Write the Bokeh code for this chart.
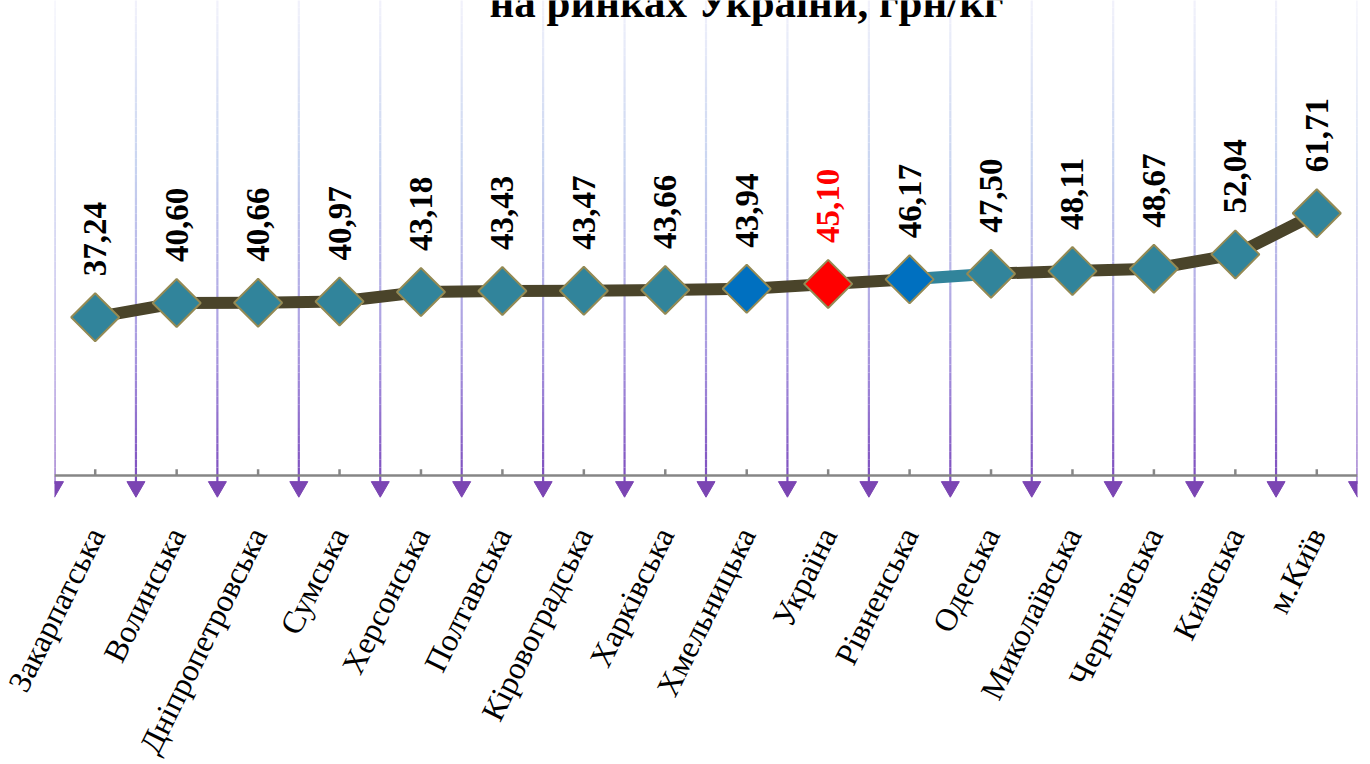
import math
from bokeh.plotting import figure
from bokeh.models import Label, FactorRange, Range1d
from bokeh.core.properties import value
from bokeh.embed import file_html
from bokeh.resources import INLINE

regions = ["Закарпатська", "Волинська", "Дніпропетровська", "Сумська", "Херсонська",
           "Полтавська", "Кіровоградська", "Харківська", "Хмельницька", "Україна",
           "Рівненська", "Одеська", "Миколаївська", "Чернігівська", "Київська", "м.Київ"]
prices = [37.24, 40.60, 40.66, 40.97, 43.18, 43.43, 43.47, 43.66, 43.94, 45.10,
          46.17, 47.50, 48.11, 48.67, 52.04, 61.71]
price_labels = ["37,24", "40,60", "40,66", "40,97", "43,18", "43,43", "43,47", "43,66",
                "43,94", "45,10", "46,17", "47,50", "48,11", "48,67", "52,04", "61,71"]
blue_regions = ["Хмельницька", "Рівненська"]
red_regions = ["Україна"]
title_text = "на ринках України, грн/кг"

SERIF = "Liberation Serif"
TEAL = "#31849B"
BLUE = "#0070C0"
RED = "#FF0000"
OLIVE = "#4A442A"

p = figure(x_range=FactorRange(factors=regions, range_padding=0),
           y_range=Range1d(-6.35, 111.8),
           frame_width=1303, frame_height=502,
           min_border_left=54, min_border_right=2, min_border_top=0, min_border_bottom=250,
           output_backend="svg", toolbar_location=None)
p.outline_line_color = None
p.background_fill_color = "white"
p.border_fill_color = "white"
p.xgrid.visible = False
p.ygrid.visible = False
p.yaxis.visible = False

ax = p.xaxis[0]
ax.axis_line_color = None
ax.major_tick_line_color = None
ax.minor_tick_line_color = None
ax.major_tick_out = 0
ax.major_tick_in = 0
ax.major_label_orientation = 1.11
ax.major_label_standoff = 27
ax.major_label_text_font = SERIF
ax.major_label_text_font_size = "32px"
ax.major_label_text_color = "black"

# gradient gridlines at category boundaries
def hex2rgb(h):
    h = h.lstrip("#")
    return tuple(int(h[i:i + 2], 16) for i in (0, 2, 4))

stops = [(0.0, "#7E4FBF"), (30.0, "#A99AE0"), (73.0, "#C8D4F0"), (112.0, "#F2F2FB")]

def grad(v):
    for (a, ca), (b, cb) in zip(stops[:-1], stops[1:]):
        if a <= v <= b:
            t = (v - a) / (b - a)
            ra, rb = hex2rgb(ca), hex2rgb(cb)
            return "#%02x%02x%02x" % tuple(int(round(ra[k] + (rb[k] - ra[k]) * t)) for k in range(3))
    return stops[-1][1]

boundaries = [(r, -0.5) for r in regions] + [(regions[-1], 0.5)]
N = 60
top = 112.0
xs0, ys0, ys1, cols = [], [], [], []
for b in boundaries:
    for k in range(N):
        y0 = top * k / N
        y1 = top * (k + 1) / N
        xs0.append(b)
        ys0.append(y0)
        ys1.append(y1)
        cols.append(grad((y0 + y1) / 2))
    xs0.append(b)
    ys0.append(-2.0)
    ys1.append(0.0)
    cols.append("#7E4FBF")
p.segment(x0=xs0, y0=ys0, x1=xs0, y1=ys1, line_color=cols, line_width=2.2)

# axis line and ticks
p.segment(x0=[(regions[0], -0.5)], y0=[0], x1=[(regions[-1], 0.5)], y1=[0],
          line_color="#868686", line_width=2.5)
p.segment(x0=regions, y0=[0] * len(regions), x1=regions, y1=[1.45] * len(regions),
          line_color="#868686", line_width=2.5)

# arrows
p.scatter(x=boundaries, y=[-2.66] * len(boundaries), marker="inverted_triangle",
          size=18, fill_color="#7B45B3", line_color="#7B45B3")

# price line
seg_teal = (regions.index("Рівненська"), regions.index("Одеська"))
p.line(x=regions[:seg_teal[0] + 1], y=prices[:seg_teal[0] + 1], line_color=OLIVE,
       line_width=12, line_join="round")
p.line(x=regions[seg_teal[1]:], y=prices[seg_teal[1]:], line_color=OLIVE,
       line_width=12, line_join="round")
p.line(x=regions[seg_teal[0]:seg_teal[1] + 1], y=prices[seg_teal[0]:seg_teal[1] + 1],
       line_color=TEAL, line_width=12)

mcolors = [RED if r in red_regions else BLUE if r in blue_regions else TEAL for r in regions]
p.scatter(x=regions, y=prices, marker="square", angle=math.pi / 4, size=34,
          fill_color=mcolors, line_color="#948A54", line_width=2)

tcolors = [RED if r in red_regions else "black" for r in regions]
p.text(x=regions, y=prices, text=price_labels, angle=math.pi / 2,
       text_align="left", text_baseline="middle", y_offset=-41,
       text_font=value(SERIF), text_font_style="bold", text_font_size="33px",
       text_color=tcolors)

p.add_layout(Label(x=692, y=500, x_units="screen", y_units="screen", text=title_text,
                   text_align="center", text_baseline="alphabetic",
                   text_font=SERIF, text_font_style="bold", text_font_size="43px",
                   text_color="black"))

open("out.html", "w").write(file_html(p, INLINE))
